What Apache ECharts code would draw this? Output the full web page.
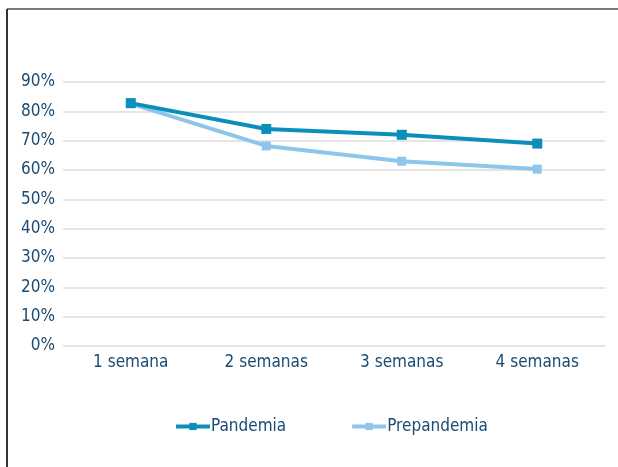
<!DOCTYPE html>
<html>
<head>
<meta charset="utf-8">
<script src="https://cdn.jsdelivr.net/npm/echarts@6/dist/echarts.min.js"></script>
<style>
  html, body { margin: 0; padding: 0; background: #fff; }
  #main { width: 618px; height: 467px; }
</style>
</head>
<body>
<div id="main"></div>
<script>
// datos
var semanas = ['1 semana', '2 semanas', '3 semanas', '4 semanas'];
var pandemia = [0.828, 0.74, 0.72, 0.69];
var prepandemia = [0.826, 0.682, 0.63, 0.603];

var textColor = '#1b4a73';
var fontFam = '"DejaVu Sans Condensed", "Liberation Sans Narrow", sans-serif';

var myChart = echarts.init(document.getElementById('main'));

var option = {
  animation: false,
  backgroundColor: '#fff',
  grid: {
    left: 63,
    right: 13,
    top: 82,
    bottom: 121
  },
  // marco del grafico (solo se ve arriba y a la izquierda)
  graphic: [
    { type: 'line', shape: { x1: 7, y1: 9, x2: 640, y2: 9 }, style: { stroke: '#7a7a7a', lineWidth: 2 } },
    { type: 'line', shape: { x1: 7, y1: 9, x2: 7, y2: 480 }, style: { stroke: '#333', lineWidth: 2 } }
  ],
  xAxis: {
    type: 'category',
    data: semanas,
    axisLine: { show: false },
    axisTick: { show: false },
    axisLabel: { color: textColor, fontSize: 17, fontFamily: fontFam, margin: 8 }
  },
  yAxis: {
    type: 'value',
    min: 0,
    max: 0.9,
    interval: 0.1,
    axisLine: { show: false },
    axisTick: { show: false },
    splitLine: { lineStyle: { color: '#dcdcdc', width: 1.5 } },
    axisLabel: {
      color: textColor, fontSize: 17, fontFamily: fontFam, margin: 8,
      formatter: function (v) { return Math.round(v * 100) + '%'; }
    }
  },
  legend: {
    top: 413,
    left: 169,
    itemWidth: 34,
    itemHeight: 9,
    itemGap: 64,
    lineStyle: { width: 4 },
    textStyle: { color: textColor, fontSize: 17, fontFamily: fontFam, padding: [0, 0, 0, -4] },
    data: ['Pandemia', 'Prepandemia']
  },
  series: [
    {
      name: 'Prepandemia',
      type: 'line',
      data: prepandemia,
      symbol: 'rect',
      symbolSize: 9,
      color: '#8ec5ea',
      lineStyle: { width: 4, color: '#8ec5ea' },
      itemStyle: { color: '#8ec5ea' }
    },
    {
      name: 'Pandemia',
      type: 'line',
      data: pandemia,
      symbol: 'rect',
      symbolSize: 10,
      color: '#0b8fba',
      lineStyle: { width: 4, color: '#0b8fba' },
      itemStyle: { color: '#0b8fba' }
    }
  ]
};

myChart.setOption(option);
</script>
</body>
</html>
